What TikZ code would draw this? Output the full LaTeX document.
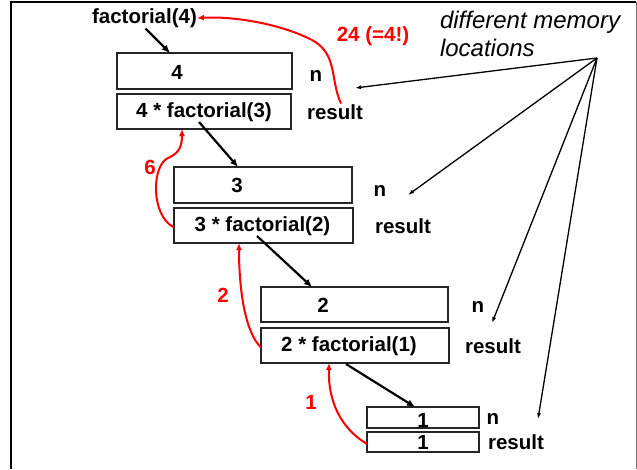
\documentclass[tikz,border=0pt]{standalone}
\usepackage{fontspec}
\setmainfont{Liberation Sans}
\usetikzlibrary{arrows.meta}
\begin{document}
\begin{tikzpicture}[x=1pt,y=-1pt,
  every node/.style={inner sep=0pt,outer sep=0pt},
  bx/.style={draw=black!85,line width=2pt,rectangle},
  lbl/.style={font=\fontsize{20.5}{24}\bfseries\selectfont},
  rlbl/.style={lbl,text=red},
  callarrow/.style={line width=2.2pt,-{Latex[length=8pt,width=7pt]}},
  retarrow/.style={red,line width=2pt,-{Latex[length=7pt,width=6pt]}},
  memarrow/.style={line width=1.3pt,-{Latex[length=6pt,width=4pt]}}]
\useasboundingbox (0,0) rectangle (637,469);
% frame
\draw[line width=2.6pt] (11,469) -- (11,2);
\draw[line width=2pt] (10,2) -- (636,2);
\draw[black!55,line width=1pt] (636,2) -- (636,469);

% boxes
\node[bx,minimum width=175pt,minimum height=36pt] (b1n) at (204.5,71) {};
\node[bx,minimum width=174pt,minimum height=35pt] (b1r) at (204,111.5) {};
\node[bx,minimum width=178pt,minimum height=36pt] (b2n) at (263,185) {};
\node[bx,minimum width=179pt,minimum height=35pt] (b2r) at (263.5,225.5) {};
\node[bx,minimum width=187pt,minimum height=35pt] (b3n) at (354.5,304.5) {};
\node[bx,minimum width=188pt,minimum height=35pt] (b3r) at (355,345.5) {};
\node[bx,minimum width=112pt,minimum height=21pt] (b4n) at (423,417.5) {};
\node[bx,minimum width=112pt,minimum height=20pt] (b4r) at (423,442) {};

% box contents
\node[lbl] (v1n) at (177,72) {4};
\node[lbl] (v1r) at (204,112) {4 * factorial(3)};
\node[lbl] (v2n) at (237,185) {3};
\node[lbl] (v2r) at (262.5,226) {3 * factorial(2)};
\node[lbl] (v3n) at (323,305) {2};
\node[lbl] (v3r) at (349,346) {2 * factorial(1)};
\node[lbl] (v4n) at (423,420) {1};
\node[lbl] (v4r) at (423,442) {1};

% side labels
\node[lbl] (n1) at (316,76) {n};
\node[lbl] (r1) at (335,112) {result};
\node[lbl] (n2) at (380,191) {n};
\node[lbl] (r2) at (403,226) {result};
\node[lbl] (n3) at (478,307) {n};
\node[lbl] (r3) at (493,346) {result};
\node[lbl] (n4) at (493,419) {n};
\node[lbl] (r4) at (516,442) {result};

% top call
\node[lbl] (f4) at (144.5,18) {factorial(4)};
\node[rlbl] (l24) at (373,36) {24 (=4!)};
\node[rlbl] (l6) at (150,167) {6};
\node[rlbl] (l2) at (223,295) {2};
\node[rlbl] (l1) at (311,402) {1};

% memory note
\node[font=\fontsize{24}{28}\itshape\selectfont,align=left,anchor=west] (mem) at (440,34) {different memory\\locations};
\coordinate (src) at (597,58);

% call arrows
\draw[callarrow] ([xshift=1pt,yshift=-1pt]f4.south) -- ([xshift=53pt]b1n.north west);
\draw[callarrow] ([xshift=82pt,yshift=-28pt]b1r.north west) -- ([xshift=64pt]b2n.north west);
\draw[callarrow] ([xshift=83pt,yshift=7pt]b2r.south west) -- ([xshift=51pt]b3n.north west);
\draw[callarrow] ([xshift=85pt,yshift=-1pt]b3r.south west) -- ([xshift=48pt]b4n.north west);

% return arrows
\draw[retarrow] ([xshift=6pt,yshift=1pt]r1.north) .. controls (330,80) and (338,54) .. (312,40)
   .. controls (285,26) and (240,16) .. (f4.east);
\draw[retarrow] ([yshift=-2pt]b2r.west) .. controls (150,215) and (152,165) .. (168,158)
   .. controls (180,153) and (182,145) .. ([xshift=65pt]b1r.south west);
\draw[retarrow] ([yshift=-2pt]b3r.west) .. controls (245,332) and (239,290) .. ([xshift=65pt]b2r.south west);
\draw[retarrow] ([yshift=-2pt]b4r.west) .. controls (340,428) and (328,400) .. ([xshift=68pt]b3r.south west);

% memory arrows
\draw[memarrow] (src) -- ([xshift=39pt,yshift=-12pt]n1.center);
\draw[memarrow] (src) -- ([xshift=28pt,yshift=-4pt]n2.center);
\draw[memarrow] (src) -- ([xshift=14pt,yshift=-16pt]n3.center);
\draw[memarrow] (src) -- ([xshift=45pt]n4.center);
\end{tikzpicture}
\end{document}
